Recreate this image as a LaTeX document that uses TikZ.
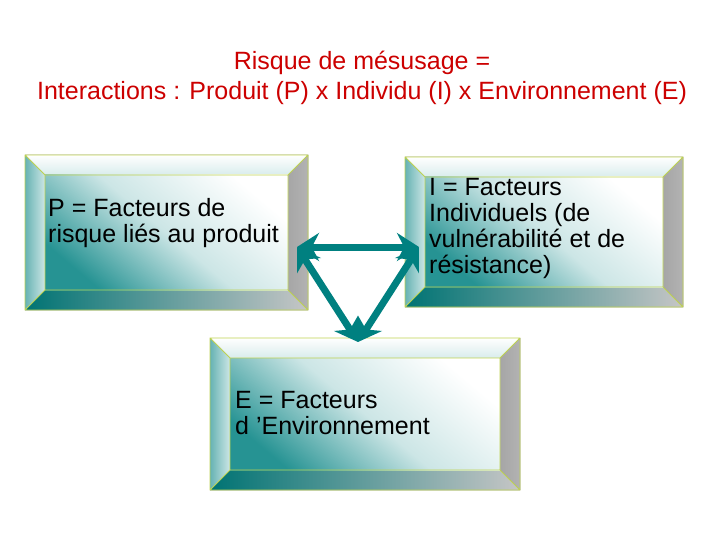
\documentclass[tikz,border=0pt]{standalone}
\usepackage{fontspec}
\setmainfont{Liberation Sans}
\usetikzlibrary{arrows.meta}
\definecolor{tealc}{RGB}{0,128,128}
\definecolor{edgec}{RGB}{190,210,80}
\tikzset{
  txt/.style={font=\fontsize{25}{26}\selectfont, align=left, anchor=north west, inner sep=0pt},
  link/.style={draw=tealc, line width=7pt, {Stealth[length=22pt,width=28pt]}-{Stealth[length=22pt,width=28pt]}},
}
\newcommand{\bevbox}[5]{% x1 y1 x2 y2 name
  \begin{scope}
  \fill[top color=white,bottom color=white!85!tealc] (#1,#2)--(#3,#2)--(#3-20,#2+20)--(#1+20,#2+20)--cycle;
  \fill[left color=tealc!60,right color=white!80!tealc] (#1,#2)--(#1+20,#2+20)--(#1+20,#4-20)--(#1,#4)--cycle;
  \fill[left color=gray!70,right color=gray!60] (#3,#2)--(#3,#4)--(#3-20,#4-20)--(#3-20,#2+20)--cycle;
  \fill[left color=tealc!90!black,right color=gray!45] (#1,#4)--(#3,#4)--(#3-20,#4-20)--(#1+20,#4-20)--cycle;
  \shade[bottom color=tealc!85, top color=white, middle color=white!80!tealc, shading angle=-40] (#1+20,#2+20) rectangle (#3-20,#4-20);
  \draw[edgec, line width=0.8pt] (#1,#2) rectangle (#3,#4) (#1+20,#2+20) rectangle (#3-20,#4-20)
     (#1,#2)--(#1+20,#2+20) (#3,#2)--(#3-20,#2+20) (#1,#4)--(#1+20,#4-20) (#3,#4)--(#3-20,#4-20);
  \coordinate (#5) at ({(#1+#3)/2},{(#2+#4)/2});
  \end{scope}}
\begin{document}
\begin{tikzpicture}[x=1pt,y=-1pt]
\useasboundingbox (0,0) rectangle (720,540);
\node[font=\fontsize{25}{30}\selectfont, text=red!80!black, align=center] (title) at (362,78) {Risque de mésusage =\\Interactions : Produit (P) x Individu (I) x Environnement (E)};
\bevbox{25}{155}{308}{310}{P}
\bevbox{405}{157}{683}{307}{I}
\bevbox{210}{338}{520}{490}{E}
\node[txt] (pt) at (48,198) {P = Facteurs de\\risque liés au produit};
\node[txt] (it) at (429,178) {I = Facteurs\\Individuels (de\\vulnérabilité et de\\résistance)};
\node[txt] (et) at (235,391) {E = Facteurs\\d ’Environnement};
\coordinate (a) at (297,247);
\coordinate (b) at (419,247);
\coordinate (c) at (358,342);
\draw[link] (a) -- (b);
\draw[link] (a) -- (c);
\draw[link] (b) -- (c);
\end{tikzpicture}
\end{document}
